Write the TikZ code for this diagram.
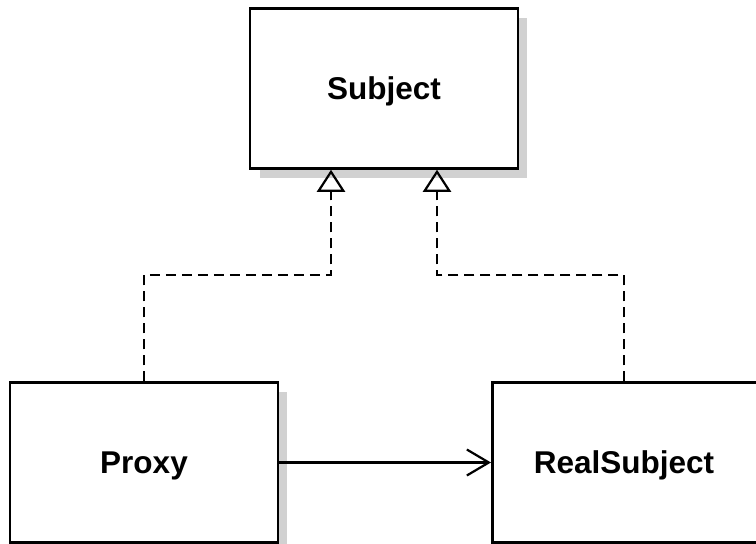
\documentclass[tikz,border=0pt]{standalone}
\usepackage{fontspec}
\setmainfont{Liberation Sans}
\usetikzlibrary{arrows.meta}
\begin{document}
\begin{tikzpicture}[x=1pt,y=-1pt,
  cls/.style={draw=black,line width=2.5pt,fill=white,minimum width=268pt,
    minimum height=160pt,inner sep=0pt},
  clslabel/.style={font=\fontsize{31.5}{36}\selectfont\bfseries,inner sep=0pt},
  shade/.style={fill=black!18,draw=none},
  realize/.style={dash pattern=on 10pt off 6pt,line width=2.2pt,
    -{Triangle[open,length=22pt,width=28pt,line width=2.2pt]}},
  assoc/.style={line width=2.2pt,-{Straight Barb[length=22pt,width=26pt,line width=2.2pt]}}]
\useasboundingbox (0,0) rectangle (756,544);
% drop shadows
\fill[shade] (260,18) rectangle (527,178);
\fill[shade] (20,392) rectangle (287,550);
% class boxes
\node[cls] (subject) at (384,88.5) {};
\node[cls] (proxy) at (144,462.5) {};
\node[cls,anchor=west] (real) at (491,462.5) {};
% class names
\node[clslabel] (subjectname) at ([yshift=-3pt]subject.center) {Subject};
\node[clslabel] (proxyname) at ([yshift=-3pt]proxy.center) {Proxy};
\node[clslabel] (realname) at (624,465.5) {RealSubject};
% realization links
\coordinate (p1) at (144,275);
\coordinate (p2) at (331,275);
\coordinate (r1) at (624,275);
\coordinate (r2) at (437,275);
\draw[realize] (proxy.north -| p1) -- (p1) -- (p2) -- (p2 |- subject.south);
\draw[realize] (real.north -| r1) -- (r1) -- (r2) -- (r2 |- subject.south);
% association
\draw[assoc] (proxy.east) -- (real.west);
\end{tikzpicture}
\end{document}
